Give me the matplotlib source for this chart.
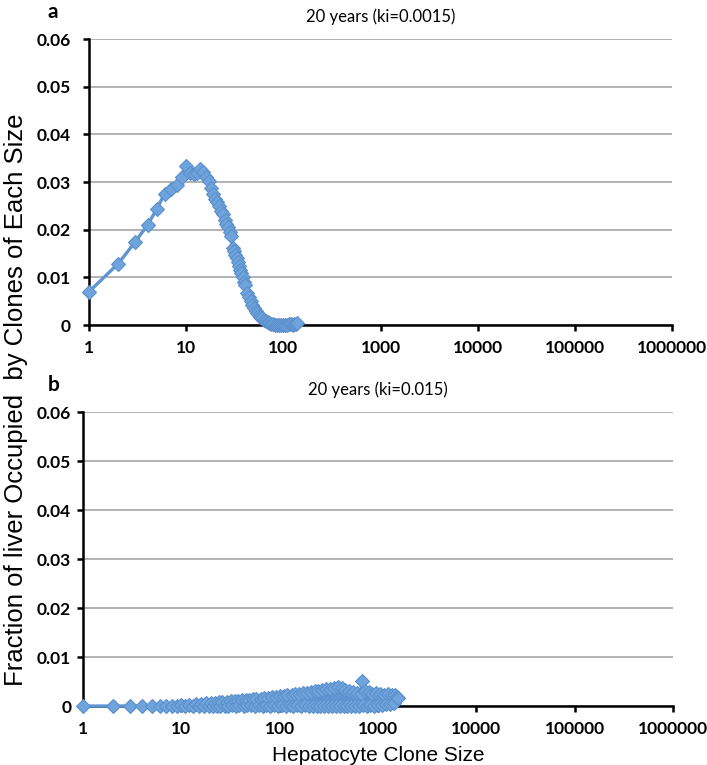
import numpy as np
import matplotlib
matplotlib.use("Agg")
import matplotlib.pyplot as plt

# clone size distribution after 20 years, ki=0.0015 (panel a)
size_a = [1, 2, 3, 4, 5, 6, 7, 8, 9, 10, 11, 12, 13, 14, 15, 16, 17, 18, 19, 20,
          21, 22, 23, 24, 25, 26, 27, 28, 29, 30, 31, 32, 33, 34, 35, 36, 37, 38, 39, 40,
          42, 44, 46, 48, 50, 52, 54, 56, 58, 60, 63, 66, 69, 72, 75, 78, 82, 86, 90, 95,
          100, 105, 110, 115, 120, 125, 130, 134, 138]
frac_a = [0.0070, 0.0129, 0.0175, 0.0210, 0.0244, 0.0276, 0.0285, 0.0294, 0.0311, 0.0333,
          0.0320, 0.0316, 0.0318, 0.0327, 0.0321, 0.0310, 0.0302, 0.0288, 0.0276, 0.0265,
          0.0259, 0.0250, 0.0240, 0.0234, 0.0220, 0.0212, 0.0205, 0.0196, 0.0187, 0.0162,
          0.0155, 0.0148, 0.0140, 0.0132, 0.0124, 0.0116, 0.0110, 0.0100, 0.0090, 0.0084,
          0.0068, 0.0058, 0.0050, 0.0042, 0.0036, 0.0030, 0.0026, 0.0021, 0.0018, 0.0014,
          0.0011, 0.0008, 0.0006, 0.0004, 0.0003, 0.0002, 0.0001, 0.0001, 0.0000, 0.0000,
          0.0001, 0.0001, 0.0001, 0.0002, 0.0002, 0.0001, 0.0002, 0.0003, 0.0004]

# clone size distribution after 20 years, ki=0.015 (panel b)
size_b = [1, 2, 3, 4, 5, 6, 7, 8, 9, 10, 11, 12, 13, 14, 15, 16, 17, 18, 19, 20,
          21, 22, 23, 24, 25, 26, 28, 29, 30, 32, 33, 35, 36, 38, 39, 41, 43, 45, 47, 49,
          51, 53, 56, 58, 61, 64, 67, 70, 73, 76, 80, 84, 88, 92, 96, 100, 105, 110, 115, 120,
          126, 132, 138, 144, 151, 158, 165, 173, 181, 189, 198, 207, 217, 227, 237, 248, 260, 272, 284, 297,
          311, 325, 340, 356, 372, 389, 407, 426, 446, 466, 488, 510, 534, 558, 584, 611, 639, 668, 684, 700,
          732, 766, 801, 838, 877, 917, 959, 1003, 1049, 1097, 1148, 1201, 1256, 1314, 1374, 1437, 1503, 1560, 1608]
frac_b = [0.0000, 0.0000, 0.0000, 0.0000, 0.0000, 0.0001, 0.0000, 0.0001, 0.0000, 0.0002,
          0.0000, 0.0003, 0.0000, 0.0004, 0.0001, 0.0005, 0.0001, 0.0006, 0.0001, 0.0007,
          0.0001, 0.0007, 0.0001, 0.0008, 0.0001, 0.0008, 0.0001, 0.0009, 0.0001, 0.0010,
          0.0002, 0.0010, 0.0001, 0.0011, 0.0002, 0.0012, 0.0001, 0.0012, 0.0002, 0.0013,
          0.0002, 0.0014, 0.0001, 0.0014, 0.0002, 0.0015, 0.0001, 0.0016, 0.0002, 0.0017,
          0.0001, 0.0018, 0.0002, 0.0019, 0.0001, 0.0020, 0.0002, 0.0021, 0.0001, 0.0022,
          0.0002, 0.0023, 0.0001, 0.0024, 0.0002, 0.0025, 0.0001, 0.0026, 0.0002, 0.0027,
          0.0001, 0.0028, 0.0001, 0.0030, 0.0001, 0.0031, 0.0001, 0.0033, 0.0000, 0.0035,
          0.0001, 0.0034, 0.0000, 0.0037, 0.0001, 0.0039, 0.0000, 0.0036, 0.0001, 0.0033,
          0.0000, 0.0030, 0.0001, 0.0028, 0.0000, 0.0026, 0.0001, 0.0024, 0.0052, 0.0003,
          0.0031, 0.0001, 0.0028, 0.0002, 0.0025, 0.0001, 0.0026, 0.0002, 0.0024, 0.0003,
          0.0023, 0.0004, 0.0025, 0.0005, 0.0022, 0.0006, 0.0023, 0.0019, 0.0016]

panels = [
    ("a", "20 years (ki=0.0015)", size_a, frac_a),
    ("b", "20 years (ki=0.015)", size_b, frac_b),
]

x_ticks = [1, 10, 100, 1000, 10000, 100000, 1000000]
y_ticks = [0, 0.01, 0.02, 0.03, 0.04, 0.05, 0.06]

plt.rcParams["font.family"] = ["Lato", "DejaVu Sans"]

fig = plt.figure(figsize=(7.07, 7.65), dpi=100)
# axes rectangles in figure fractions, plus y tick label pad per panel
rects = [[0.1259, 0.575, 0.8246, 0.374], [0.1174, 0.0771, 0.8346, 0.3843]]
ypads = [9, 4.5]

line_col = "#5f95d3"
face_col = "#6fa3dc"

for (tag, title, xs, ys), rect, ypad in zip(panels, rects, ypads):
    ax = fig.add_axes(rect)
    ax.set_xscale("log")
    ax.set_xlim(1, 1e6)
    ax.set_ylim(0, 0.06)
    ax.set_xticks(x_ticks)
    ax.set_xticklabels([str(t) for t in x_ticks])
    ax.minorticks_off()
    ax.set_yticks(y_ticks)
    ax.set_yticklabels(["0" if t == 0 else f"{t:.2f}" for t in y_ticks])
    ax.grid(axis="y", color="#a6a6a6", linewidth=1.2)
    ax.set_axisbelow(True)
    for s in ["top", "right"]:
        ax.spines[s].set_visible(False)
    for s in ["left", "bottom"]:
        ax.spines[s].set_linewidth(1.8)
        ax.spines[s].set_zorder(2.5)
    ax.tick_params(length=4, width=1.8, labelsize=12.5, direction="out")
    ax.tick_params(axis="x", pad=7)
    ax.tick_params(axis="y", pad=ypad)
    for lab in ax.get_xticklabels() + ax.get_yticklabels():
        lab.set_fontweight("bold")

    ax.plot(xs, ys, color=line_col, linewidth=2.4, marker="D", markersize=7.2,
            markerfacecolor=face_col, markeredgecolor="#5b90cc", markeredgewidth=0.8,
            clip_on=False, zorder=3)

    ax.set_title(title, fontsize=12, pad=12)
    top_px = (1 - (rect[1] + rect[3])) * 765
    fig.text(48 / 707, 1 - (top_px - 27) / 765, tag, fontsize=15, fontweight="bold",
             ha="left", va="center")

ax.set_xlabel("Hepatocyte Clone Size", family="Liberation Sans", fontsize=15, labelpad=6)
fig.text(16 / 707, 0.478, "Fraction of liver Occupied  by Clones of Each Size",
         family="Liberation Sans", fontsize=18.5, rotation=90, ha="center", va="center")

fig.savefig("out.png", dpi=100)
